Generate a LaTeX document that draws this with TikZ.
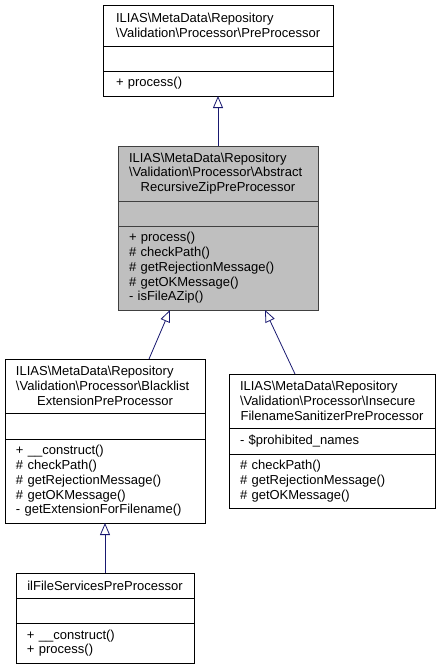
\documentclass[tikz,border=0pt]{standalone}
\usepackage{fontspec}
\setmainfont{Liberation Sans}
\usetikzlibrary{positioning, arrows.meta}
\definecolor{boxgray}{RGB}{191,191,191}
\definecolor{edgeblue}{RGB}{25,25,112}
\definecolor{darkedge}{RGB}{64,64,64}
\newcommand{\bs}{\textbackslash}
\newcommand{\lastline}[1]{\makebox[\hsize][c]{#1}}

\begin{document}
\begin{tikzpicture}[x=1pt, y=-1pt,
        font=\fontsize{13}{14.7}\selectfont,
        part/.style = {draw=black, line width=0.8pt, fill=white, text width=#1, inner xsep=11pt, inner ysep=0pt, outer sep=0pt, align=left},
        grayed/.style = {draw=darkedge, fill=boxgray},
        inherit/.style = {draw=edgeblue, line width=0.8pt, -{Triangle[open, length=12pt, width=10pt]}},
        node distance = 0pt,
        ]
        \useasboundingbox (0,0) rectangle (440,669);

        % PreProcessor
        \node[part=204pt, inner xsep=13pt, minimum height=41pt] (pre) at (218,25.5) {ILIAS\bs MetaData\bs Repository\\\lastline{\bs Validation\bs Processor\bs PreProcessor}};
        \node[part=204pt, inner xsep=13pt, minimum height=25pt, below=of pre] (pre attr) {};
        \node[part=204pt, inner xsep=13pt, minimum height=25pt, below=of pre attr] (pre ops) {+ process()};

        % AbstractRecursiveZipPreProcessor
        \node[part=178pt, grayed, minimum height=55pt] (zip) at (218,173.5) {ILIAS\bs MetaData\bs Repository\\\bs Validation\bs Processor\bs Abstract\\\lastline{RecursiveZipPreProcessor}};
        \node[part=178pt, grayed, minimum height=25pt, below=of zip] (zip attr) {};
        \node[part=178pt, grayed, minimum height=84pt, below=of zip attr] (zip ops) {+ process()\\\# checkPath()\\\# getRejectionMessage()\\\# getOKMessage()\\- isFileAZip()};

        % BlacklistExtensionPreProcessor
        \node[part=178pt, minimum height=54pt] (black) at (105,386) {ILIAS\bs MetaData\bs Repository\\\bs Validation\bs Processor\bs Blacklist\\\lastline{ExtensionPreProcessor}};
        \node[part=178pt, minimum height=26pt, below=of black] (black attr) {};
        \node[part=178pt, minimum height=84pt, below=of black attr] (black ops) {+ \_\_construct()\\\# checkPath()\\\# getRejectionMessage()\\\# getOKMessage()\\- getExtensionForFilename()};

        % InsecureFilenameSanitizerPreProcessor
        \node[part=184pt, minimum height=54pt] (insec) at (332,401) {ILIAS\bs MetaData\bs Repository\\\bs Validation\bs Processor\bs Insecure\\\lastline{FilenameSanitizerPreProcessor}};
        \node[part=184pt, minimum height=26pt, below=of insec] (insec attr) {- \$prohibited\_names};
        \node[part=184pt, minimum height=54pt, below=of insec attr] (insec ops) {\# checkPath()\\\# getRejectionMessage()\\\# getOKMessage()};

        % ilFileServicesPreProcessor
        \node[part=156pt, minimum height=25pt] (ilfs) at (105,585.5) {\lastline{ilFileServicesPreProcessor}};
        \node[part=156pt, minimum height=25pt, below=of ilfs] (ilfs attr) {};
        \node[part=156pt, minimum height=40pt, below=of ilfs attr] (ilfs ops) {+ \_\_construct()\\+ process()};

        \draw[inherit] (zip.north) -- (pre ops.south);
        \draw[inherit] ([xshift=44pt]black.north) -- ([xshift=-48pt]zip ops.south);
        \draw[inherit] ([xshift=-37pt]insec.north) -- ([xshift=47pt]zip ops.south);
        \draw[inherit] (ilfs.north) -- (black ops.south);
\end{tikzpicture}
\end{document}
